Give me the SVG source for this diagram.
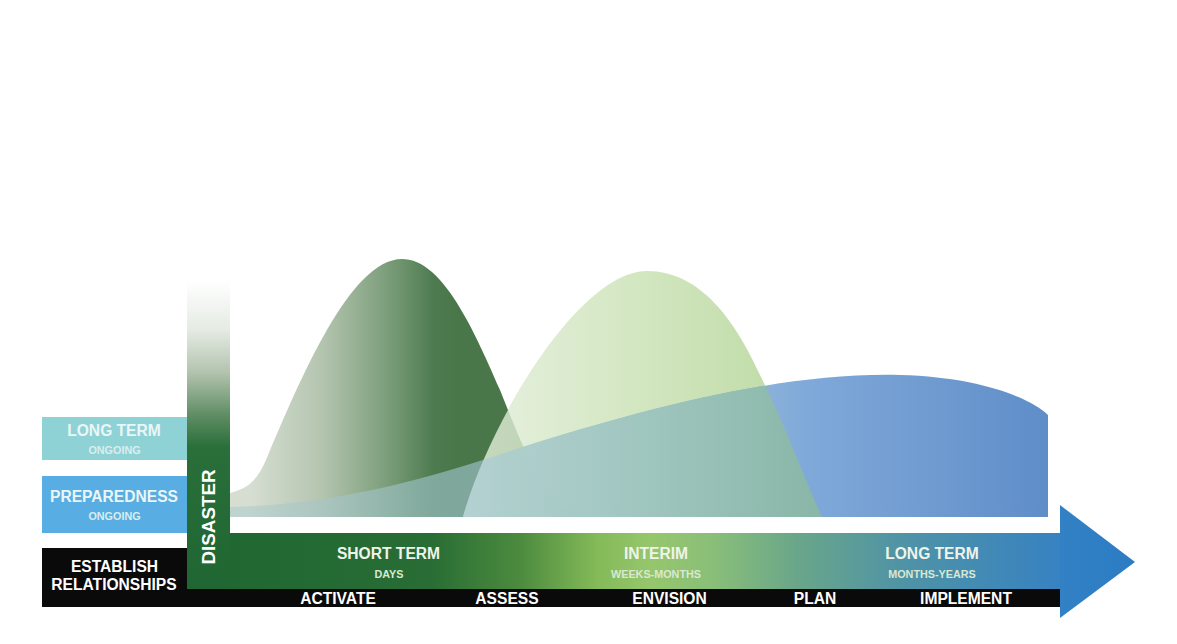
<svg xmlns="http://www.w3.org/2000/svg" width="1177" height="644" viewBox="0 0 1177 644">
<style>
text{font-family:"Liberation Sans",Arial,Helvetica,sans-serif;font-weight:bold;text-anchor:middle}
.big{font-size:15.6px}
.small{font-size:10.8px}
.w{fill:#ffffff}
.lt{fill:#eaf6f6}
.lts{fill:#d9eeef}
.bar{fill:#eef4ea}
.bars{fill:#d9e8d2}
</style>
<defs>
<linearGradient id="gDark" gradientUnits="userSpaceOnUse" x1="250" y1="0" x2="460" y2="0">
<stop offset="0" stop-color="#d6ded2"/>
<stop offset="0.35" stop-color="#b3c4ae"/>
<stop offset="0.65" stop-color="#7c9e7b"/>
<stop offset="0.88" stop-color="#4d7a4e"/>
<stop offset="1" stop-color="#4a774a"/>
</linearGradient>
<linearGradient id="gLight" gradientUnits="userSpaceOnUse" x1="470" y1="0" x2="780" y2="0">
<stop offset="0" stop-color="#e3eedb"/>
<stop offset="0.5" stop-color="#cbe2b6"/>
<stop offset="1" stop-color="#b2d494"/>
</linearGradient>
<linearGradient id="gBlue" gradientUnits="userSpaceOnUse" x1="230" y1="0" x2="1048" y2="0">
<stop offset="0" stop-color="#a9c9cb" stop-opacity="0.5"/>
<stop offset="0.3" stop-color="#9cc2ca" stop-opacity="0.65"/>
<stop offset="0.55" stop-color="#8bb3d2" stop-opacity="0.8"/>
<stop offset="0.7" stop-color="#7ba6d8" stop-opacity="0.96"/>
<stop offset="1" stop-color="#5f8dc8" stop-opacity="1"/>
</linearGradient>
<linearGradient id="gOver" gradientUnits="userSpaceOnUse" x1="463" y1="0" x2="822" y2="0">
<stop offset="0" stop-color="#b4d2d2"/>
<stop offset="0.5" stop-color="#a0c6be"/>
<stop offset="1" stop-color="#8ab8a2"/>
</linearGradient>
<linearGradient id="gBar" gradientUnits="userSpaceOnUse" x1="187" y1="0" x2="1060" y2="0">
<stop offset="0" stop-color="#1e6632"/>
<stop offset="0.28" stop-color="#296d35"/>
<stop offset="0.38" stop-color="#4b8a3e"/>
<stop offset="0.47" stop-color="#84ba58"/>
<stop offset="0.53" stop-color="#96c66c"/>
<stop offset="0.6" stop-color="#8abf78"/>
<stop offset="0.7" stop-color="#69a68a"/>
<stop offset="0.82" stop-color="#4f93a6"/>
<stop offset="1" stop-color="#3782c2"/>
</linearGradient>
<linearGradient id="gHead" gradientUnits="userSpaceOnUse" x1="1060" y1="0" x2="1135" y2="0">
<stop offset="0" stop-color="#3381c4"/>
<stop offset="1" stop-color="#2b7cc4"/>
</linearGradient>
<linearGradient id="gVert" gradientUnits="userSpaceOnUse" x1="0" y1="280" x2="0" y2="589">
<stop offset="0" stop-color="#ffffff"/>
<stop offset="0.16" stop-color="#e6ebe4"/>
<stop offset="0.3" stop-color="#b2c3ae"/>
<stop offset="0.44" stop-color="#5e8c62"/>
<stop offset="0.54" stop-color="#2a6f3a"/>
<stop offset="1" stop-color="#1f6632"/>
</linearGradient>
<clipPath id="clipBlue">
<path d="M230,517 L230,507 C330,505 420,482 520,448 C640,410 780,372 900,375 C980,377 1030,398 1048,415 L1048,517 Z"/>
</clipPath>
</defs>

<g id="curves">
<path id="curve-short" fill="url(#gDark)" d="M230,517 L230,493 C250,488 258,478 266,460 C300,380 350,259 402,259 C440,259 470,320 500,390 C520,440 535,480 560,505 C570,513 580,517 595,517 Z"/>
<path id="curve-interim" fill="url(#gLight)" fill-opacity="0.82" d="M463,517 C490,420 580,271 647,271 C700,271 735,320 760,375 C785,425 805,480 822,517 Z"/>
<path id="curve-long" fill="url(#gBlue)" d="M230,517 L230,507 C330,505 420,482 520,448 C640,410 780,372 900,375 C980,377 1030,398 1048,415 L1048,517 Z"/>
<path id="curve-overlap" fill="url(#gOver)" fill-opacity="0.9" clip-path="url(#clipBlue)" d="M463,517 C490,420 580,271 647,271 C700,271 735,320 760,375 C785,425 805,480 822,517 Z"/>
</g>

<g id="node-long-term-ongoing">
<rect x="42" y="417" width="145" height="43" fill="#8fd2d6"/>
<text class="big lt" x="114" y="436">LONG TERM</text>
<text class="small lts" x="114.5" y="454">ONGOING</text>
</g>

<g id="node-preparedness">
<rect x="42" y="476" width="145" height="57" fill="#58ade2"/>
<text class="big lt" x="114" y="501.5">PREPAREDNESS</text>
<text class="small lts" x="114.5" y="520">ONGOING</text>
</g>

<g id="node-establish">
<path d="M42,548 H187 V589 H1060 V607 H42 Z" fill="#0a0a0a"/>
<text class="big w" x="114.5" y="571.5">ESTABLISH</text>
<text class="big w" x="114" y="590">RELATIONSHIPS</text>
</g>

<g id="node-timeline">
<rect x="187" y="533" width="873" height="56" fill="url(#gBar)"/>
<polygon points="1060,505 1135,562 1060,618" fill="url(#gHead)"/>
<text class="big bar" x="388.5" y="559">SHORT TERM</text>
<text class="small bars" x="389" y="578">DAYS</text>
<text class="big bar" x="656" y="559">INTERIM</text>
<text class="small bars" x="656" y="578">WEEKS-MONTHS</text>
<text class="big bar" x="932" y="559">LONG TERM</text>
<text class="small bars" x="932" y="578">MONTHS-YEARS</text>
</g>

<g id="node-disaster">
<rect x="187" y="280" width="43" height="309" fill="url(#gVert)"/>
<text class="w" style="font-size:18.8px" transform="translate(215,517) rotate(-90)">DISASTER</text>
</g>

<g id="node-phases">
<text class="big w" x="338" y="604">ACTIVATE</text>
<text class="big w" x="507" y="604">ASSESS</text>
<text class="big w" x="669.5" y="604">ENVISION</text>
<text class="big w" x="815" y="604">PLAN</text>
<text class="big w" x="966" y="604">IMPLEMENT</text>
</g>

<g id="connectors"></g>
</svg>
